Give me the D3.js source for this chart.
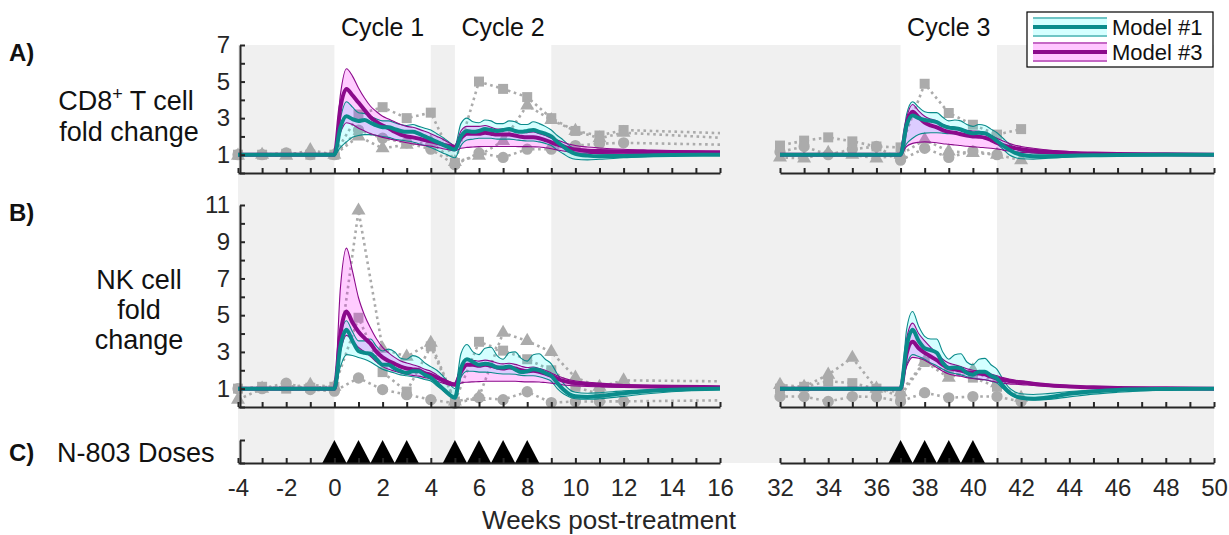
<!DOCTYPE html>
<html>
<head>
<meta charset="utf-8">
<script src="https://cdn.jsdelivr.net/npm/d3@7"></script>
<style>
html, body { margin: 0; padding: 0; background: #fff; }
svg { display: block; font-family: "Liberation Sans", Arial, Helvetica, sans-serif; }
</style>
</head>
<body>
<svg id="chart" width="1229" height="535"></svg>
<script>
// ---------- Model time grids (weeks) ----------
const modelWeeksL = [-4, 0,
  0.25, 0.5, 0.75, 1, 1.25, 1.5, 1.75, 2, 2.25, 2.5, 2.75, 3, 3.25, 3.5, 3.75, 4,
  4.25, 4.5, 4.75, 5, 5.25, 5.5, 5.75, 6, 6.25, 6.5, 6.75, 7, 7.25, 7.5, 7.75, 8,
  8.25, 8.5, 8.75, 9, 9.25, 9.5, 9.75, 10, 10.5, 11, 12, 13, 14, 16];
const modelWeeksR = [32, 37,
  37.25, 37.5, 37.75, 38, 38.25, 38.5, 38.75, 39, 39.25, 39.5, 39.75, 40,
  40.25, 40.5, 40.75, 41, 41.25, 41.5, 41.75, 42, 42.5, 43, 44, 45, 46, 48, 50];

// ---------- CD8+ T cell fold change, cycles 1-2 ----------
const cd8M1MeanL = [1, 1, 2.5, 3.1, 2.95, 2.85, 2.9, 2.75, 2.6, 2.5, 2.5, 2.4, 2.3, 2.25,
  2.25, 2.15, 2.0, 1.85, 1.7, 1.55, 1.4, 1.28, 2.0, 2.3, 2.25, 2.3, 2.4, 2.35, 2.3, 2.35,
  2.4, 2.3, 2.25, 2.3, 2.35, 2.25, 2.15, 2.0, 1.7, 1.45, 1.2, 1.05, 0.95, 0.92, 0.93, 0.96, 0.98, 1.0];
const cd8M1HiL = [1, 1, 3.0, 3.9, 3.6, 3.3, 3.25, 3.1, 2.95, 2.85, 2.85, 2.75, 2.65, 2.6,
  2.65, 2.55, 2.45, 2.35, 2.15, 1.95, 1.7, 1.5, 2.7, 3.0, 2.8, 2.75, 2.9, 2.85, 2.7, 2.7,
  2.85, 2.8, 2.65, 2.65, 2.8, 2.7, 2.55, 2.35, 2.05, 1.8, 1.5, 1.3, 1.12, 1.05, 1.01, 1.0, 1.0, 1.0];
const cd8M1LoL = [1, 1, 1.4, 1.7, 1.95, 2.05, 2.1, 2.1, 2.05, 2.0, 1.95, 1.85, 1.8, 1.75,
  1.7, 1.6, 1.5, 1.4, 1.25, 1.1, 0.95, 0.83, 1.5, 1.8, 1.85, 1.9, 1.9, 1.9, 1.85, 1.85,
  1.85, 1.82, 1.78, 1.75, 1.75, 1.7, 1.62, 1.5, 1.25, 1.05, 0.85, 0.75, 0.72, 0.75, 0.83, 0.9, 0.95, 0.99];
const cd8M3MeanL = [1, 1, 3.6, 4.6, 4.25, 3.85, 3.45, 3.05, 2.8, 2.6, 2.45, 2.25, 2.1, 2.0,
  1.95, 1.88, 1.8, 1.73, 1.65, 1.55, 1.48, 1.42, 1.9, 2.15, 2.15, 2.15, 2.2, 2.15, 2.1, 2.1,
  2.1, 2.05, 1.98, 1.95, 1.95, 1.9, 1.8, 1.68, 1.55, 1.45, 1.35, 1.28, 1.22, 1.2, 1.17, 1.15, 1.14, 1.12];
const cd8M3HiL = [1, 1, 4.3, 5.7, 5.3, 4.65, 4.1, 3.65, 3.35, 3.1, 2.95, 2.8, 2.65, 2.55,
  2.5, 2.4, 2.28, 2.15, 2.0, 1.85, 1.65, 1.5, 2.3, 2.55, 2.55, 2.55, 2.6, 2.5, 2.4, 2.4,
  2.45, 2.35, 2.25, 2.2, 2.25, 2.15, 2.05, 1.9, 1.8, 1.68, 1.57, 1.5, 1.42, 1.37, 1.3, 1.26, 1.23, 1.2];
const cd8M3LoL = [1, 1, 2.2, 2.75, 2.65, 2.45, 2.3, 2.15, 2.05, 1.95, 1.88, 1.8, 1.72, 1.65,
  1.6, 1.55, 1.5, 1.47, 1.4, 1.33, 1.27, 1.22, 1.35, 1.4, 1.42, 1.44, 1.45, 1.45, 1.45, 1.45,
  1.45, 1.45, 1.44, 1.44, 1.43, 1.42, 1.38, 1.33, 1.26, 1.2, 1.15, 1.11, 1.08, 1.06, 1.05, 1.04, 1.04, 1.03];

// ---------- CD8+ T cell fold change, cycle 3 ----------
const cd8M1MeanR = [1, 1, 2.6, 3.15, 3.0, 2.9, 2.85, 2.78, 2.6, 2.48, 2.45, 2.38, 2.25, 2.18,
  2.2, 2.17, 2.0, 1.75, 1.5, 1.28, 1.1, 1.0, 0.92, 0.91, 0.94, 0.97, 0.99, 1.0, 1.0];
const cd8M1HiR = [1, 1, 3.2, 3.9, 3.6, 3.35, 3.3, 3.3, 3.05, 2.85, 2.9, 2.85, 2.65, 2.55,
  2.65, 2.6, 2.4, 2.2, 1.9, 1.6, 1.35, 1.2, 1.1, 1.05, 1.02, 1.01, 1.0, 1.0, 1.0];
const cd8M1LoR = [1, 1, 1.6, 1.9, 2.1, 2.18, 2.2, 2.2, 2.18, 2.15, 2.15, 2.12, 2.1, 2.05,
  2.05, 1.95, 1.85, 1.6, 1.3, 1.0, 0.85, 0.78, 0.76, 0.8, 0.88, 0.93, 0.96, 0.99, 1.0];
const cd8M3MeanR = [1, 1, 2.7, 3.35, 3.05, 2.75, 2.6, 2.5, 2.35, 2.25, 2.2, 2.12, 2.05, 2.0,
  1.98, 1.93, 1.8, 1.65, 1.53, 1.43, 1.36, 1.3, 1.22, 1.17, 1.1, 1.06, 1.04, 1.02, 1.0];
const cd8M3HiR = [1, 1, 3.0, 3.75, 3.4, 3.1, 2.95, 2.85, 2.65, 2.55, 2.5, 2.42, 2.33, 2.3,
  2.28, 2.2, 2.05, 1.9, 1.75, 1.62, 1.52, 1.45, 1.35, 1.27, 1.17, 1.1, 1.07, 1.03, 1.01];
const cd8M3LoR = [1, 1, 1.45, 1.62, 1.68, 1.7, 1.68, 1.65, 1.6, 1.57, 1.53, 1.5, 1.46, 1.43,
  1.41, 1.38, 1.35, 1.32, 1.25, 1.2, 1.16, 1.13, 1.1, 1.07, 1.04, 1.02, 1.01, 1.0, 1.0];

// ---------- NK cell fold change, cycles 1-2 ----------
const nkM1MeanL = [1, 1, 3.3, 4.2, 3.6, 3.05, 2.95, 2.9, 2.6, 2.3, 2.3, 2.1, 1.95, 1.85,
  1.95, 1.95, 1.75, 1.6, 1.3, 1.0, 0.7, 0.5, 2.1, 2.6, 2.45, 2.3, 2.35, 2.3, 2.15, 2.15,
  2.2, 2.05, 1.9, 1.95, 2.05, 2.0, 1.85, 1.7, 1.3, 0.95, 0.7, 0.58, 0.55, 0.6, 0.75, 0.87, 0.94, 0.99];
const nkM1HiL = [1, 1, 3.8, 4.7, 4.1, 3.6, 3.6, 3.7, 3.3, 3.05, 3.15, 3.0, 2.65, 2.6,
  2.8, 2.7, 2.4, 2.2, 2.0, 1.7, 1.3, 1.0, 2.9, 3.4, 3.0, 2.85, 3.2, 3.25, 2.8, 2.6,
  2.95, 3.0, 2.65, 2.5, 2.85, 2.9, 2.6, 2.35, 1.8, 1.3, 0.95, 0.8, 0.75, 0.78, 0.88, 0.94, 0.97, 1.0];
const nkM1LoL = [1, 1, 2.2, 2.85, 2.8, 2.7, 2.6, 2.45, 2.25, 2.05, 1.95, 1.85, 1.75, 1.7,
  1.65, 1.6, 1.5, 1.42, 1.15, 0.9, 0.65, 0.5, 1.6, 1.95, 1.95, 1.9, 1.9, 1.88, 1.82, 1.8,
  1.8, 1.78, 1.72, 1.7, 1.7, 1.65, 1.55, 1.4, 1.0, 0.72, 0.55, 0.45, 0.42, 0.45, 0.58, 0.72, 0.83, 0.95];
const nkM3MeanL = [1, 1, 4.0, 5.2, 4.6, 4.1, 3.75, 3.45, 3.0, 2.7, 2.5, 2.35, 2.2, 2.1,
  2.05, 2.0, 1.85, 1.75, 1.6, 1.45, 1.3, 1.22, 1.9, 2.3, 2.3, 2.25, 2.3, 2.25, 2.15, 2.1,
  2.15, 2.1, 2.0, 1.95, 1.98, 1.92, 1.82, 1.7, 1.55, 1.42, 1.35, 1.3, 1.24, 1.2, 1.15, 1.12, 1.1, 1.08];
const nkM3HiL = [1, 1, 6.5, 8.65, 7.4, 5.95, 5.0, 4.3, 3.7, 3.25, 2.95, 2.7, 2.5, 2.4,
  2.3, 2.2, 2.05, 1.95, 1.75, 1.55, 1.4, 1.3, 2.2, 2.6, 2.55, 2.5, 2.55, 2.5, 2.4, 2.35,
  2.38, 2.32, 2.22, 2.15, 2.18, 2.1, 2.0, 1.85, 1.7, 1.58, 1.48, 1.42, 1.35, 1.3, 1.22, 1.18, 1.15, 1.12];
const nkM3LoL = [1, 1, 3.0, 3.9, 3.6, 3.25, 3.0, 2.75, 2.45, 2.2, 2.05, 1.95, 1.85, 1.78,
  1.72, 1.68, 1.6, 1.52, 1.4, 1.3, 1.2, 1.15, 1.3, 1.35, 1.37, 1.38, 1.4, 1.4, 1.4, 1.4,
  1.4, 1.4, 1.38, 1.37, 1.37, 1.36, 1.33, 1.3, 1.25, 1.2, 1.17, 1.15, 1.12, 1.1, 1.07, 1.06, 1.05, 1.04];

// ---------- NK cell fold change, cycle 3 ----------
const nkM1MeanR = [1, 1, 3.3, 4.2, 3.6, 3.2, 3.1, 2.95, 2.4, 2.12, 2.15, 2.1, 1.85, 1.76,
  1.92, 1.92, 1.7, 1.55, 1.15, 0.8, 0.6, 0.5, 0.45, 0.5, 0.72, 0.85, 0.93, 0.98, 1.0];
const nkM1HiR = [1, 1, 4.2, 5.2, 4.4, 3.85, 3.7, 3.7, 3.0, 2.6, 2.85, 2.9, 2.45, 2.3,
  2.6, 2.65, 2.3, 2.05, 1.5, 1.05, 0.82, 0.72, 0.68, 0.72, 0.84, 0.92, 0.96, 0.99, 1.0];
const nkM1LoR = [1, 1, 2.3, 2.85, 2.75, 2.6, 2.4, 2.25, 2.05, 1.9, 1.82, 1.75, 1.65, 1.58,
  1.52, 1.48, 1.4, 1.3, 1.0, 0.72, 0.55, 0.45, 0.38, 0.4, 0.55, 0.7, 0.8, 0.93, 0.98];
const nkM3MeanR = [1, 1, 2.9, 3.55, 3.2, 2.95, 2.75, 2.55, 2.3, 2.12, 2.05, 1.98, 1.9, 1.85,
  1.82, 1.78, 1.65, 1.55, 1.47, 1.42, 1.38, 1.35, 1.27, 1.2, 1.12, 1.07, 1.04, 1.02, 1.0];
const nkM3HiR = [1, 1, 3.7, 4.57, 4.0, 3.6, 3.25, 2.95, 2.6, 2.4, 2.3, 2.2, 2.08, 2.0,
  1.97, 1.92, 1.8, 1.7, 1.6, 1.52, 1.46, 1.42, 1.33, 1.25, 1.15, 1.09, 1.05, 1.02, 1.0];
const nkM3LoR = [1, 1, 2.2, 2.7, 2.65, 2.55, 2.35, 2.15, 1.95, 1.8, 1.72, 1.67, 1.6, 1.55,
  1.52, 1.48, 1.42, 1.35, 1.3, 1.26, 1.24, 1.22, 1.17, 1.13, 1.08, 1.05, 1.03, 1.01, 1.0];

// ---------- Measured subjects (weekly samples) ----------
const sampleWeeks = [-4, -3, -2, -1, 0, 1, 2, 3, 4, 5, 6, 7, 8, 9, 10, 11, 12,
  32, 33, 34, 35, 36, 37, 38, 39, 40, 41, 42];
const cd8Square = [1.0, 1.0, 1.05, 1.0, 1.0, 3.2, 3.6, 3.0, 3.3, 0.55, 5.0, 4.6, 4.15, 3.0, 2.3, 2.05, 2.35,
  1.5, 1.77, 1.95, 1.73, 1.45, 1.4, 4.88, 3.28, 2.64, 2.1, 2.4];
const cd8Circle = [1.0, 1.0, 1.1, 1.0, 1.0, 2.35, 1.9, 1.65, 1.3, 0.45, 1.1, 0.85, 1.3, 1.3, 1.5, 1.6, 1.65,
  1.15, 1.45, 1.0, 1.3, 1.45, 0.7, 1.35, 0.85, 1.2, 1.0, null];
const cd8Triangle = [0.95, 1.0, 0.95, 1.25, 1.0, 2.0, 1.35, 1.55, 1.7, 0.6, 0.95, 1.75, 3.7, 2.9, 2.3, 1.9, 2.2,
  0.85, 0.8, 1.1, 1.0, 0.8, 1.0, 1.82, 1.18, 1.1, 1.0, 0.7];
const nkSquare = [1.0, 1.1, 1.0, 1.05, 1.1, 4.86, 1.9, 0.84, 3.3, 0.3, 3.55, 3.07, 2.6, 2.0, 1.1, 0.7, null,
  1.0, 1.1, 1.4, 1.3, 1.0, 0.6, 2.45, 1.9, 1.6, 1.1, null];
const nkCircle = [1.0, 1.0, 1.3, 0.95, 0.86, 1.58, 0.95, 0.67, 0.4, 0.2, 0.5, 0.4, 0.83, 0.24, 0.3, 0.3, 0.31,
  0.57, 0.57, 0.3, 0.57, 0.55, 0.3, 0.78, 0.5, 0.57, 0.57, 0.3];
const nkTriangle = [0.4, 1.0, 1.1, 1.2, 1.1, 10.7, 3.17, 2.74, 3.5, 0.3, 0.55, 4.04, 3.6, 3.0, 1.6, 1.1, 1.45,
  1.2, 1.1, 1.76, 2.68, 1.0, 0.8, 2.47, 1.6, 2.0, 1.3, 0.5];

// ---------- Treatment schedule ----------
const doseWeeks = [0, 1, 2, 3, 5, 6, 7, 8, 37, 38, 39, 40];
const offTreatment = [[-4, 0], [4, 5], [9, 37], [41, 50]];
const cycleLabels = ["Cycle 1", "Cycle 2", "Cycle 3"];
const cycleCentres = [2, 7, 39];
const ticksL = d3.range(-4, 17);
const ticksR = d3.range(32, 51);
const ticksA = d3.range(0, 8);
const ticksB = d3.range(0, 12);
const legendLabels = ["Model #1", "Model #3"];

// ---------- Scales ----------
const INK = "#262626";
const TEAL = "#0a8b8b", PURPLE = "#8b0a8b", GREY = "#ababab";
const xL = d3.scaleLinear().domain([-4, 16]).range([238, 720]);
const xR = d3.scaleLinear().domain([32, 50]).range([780, 1214]);
const yA = d3.scaleLinear().domain([0, 7]).range([173, 45]);
const yB = d3.scaleLinear().domain([0, 11]).range([407, 205]);
const yC = d3.scaleLinear().domain([0, 1]).range([463, 440]);
const xAt = t => (t <= 16 ? xL(t) : xR(t));

const svg = d3.select("#chart");
const defs = svg.append("defs");
defs.append("clipPath").attr("id", "clipL").append("rect")
  .attr("x", 200).attr("y", 0).attr("width", xL(16) - 200).attr("height", 535);
defs.append("clipPath").attr("id", "clipR").append("rect")
  .attr("x", xR(32)).attr("y", 0).attr("width", 1229 - xR(32)).attr("height", 535);

// Off-treatment shading spans all three panels
svg.append("g").selectAll("rect").data(offTreatment).join("rect")
  .attr("x", d => xAt(d[0])).attr("width", d => xAt(d[1]) - xAt(d[0]))
  .attr("y", yA(7)).attr("height", yC(0) - yA(7))
  .attr("fill", "#f0f0f0");

// ---------- Panel definitions ----------
const panels = [
  { y: yA,
    subjects: [cd8Square, cd8Circle, cd8Triangle],
    segments: [
      { x: xL, clip: "clipL", weeks: modelWeeksL,
        m1: [cd8M1LoL, cd8M1HiL, cd8M1MeanL], m3: [cd8M3LoL, cd8M3HiL, cd8M3MeanL] },
      { x: xR, clip: "clipR", weeks: modelWeeksR,
        m1: [cd8M1LoR, cd8M1HiR, cd8M1MeanR], m3: [cd8M3LoR, cd8M3HiR, cd8M3MeanR] }
    ] },
  { y: yB,
    subjects: [nkSquare, nkCircle, nkTriangle],
    segments: [
      { x: xL, clip: "clipL", weeks: modelWeeksL,
        m1: [nkM1LoL, nkM1HiL, nkM1MeanL], m3: [nkM3LoL, nkM3HiL, nkM3MeanL] },
      { x: xR, clip: "clipR", weeks: modelWeeksR,
        m1: [nkM1LoR, nkM1HiR, nkM1MeanR], m3: [nkM3LoR, nkM3HiR, nkM3MeanR] }
    ] }
];
const markerShapes = [
  d3.symbol(d3.symbolSquare, 100),
  d3.symbol(d3.symbolCircle, 100),
  d3.symbol(d3.symbolTriangle, 85)
];

panels.forEach(p => {
  const g = svg.append("g");
  // measured subjects: dotted lines then markers
  p.segments.forEach(seg => {
    p.subjects.forEach(vals => {
      const pts = sampleWeeks.map((w, i) => ({ w, v: vals[i] }));
      g.append("path")
        .attr("clip-path", `url(#${seg.clip})`)
        .attr("d", d3.line().defined(d => d.v != null)
          .x(d => seg.x(d.w)).y(d => p.y(d.v))(pts))
        .attr("fill", "none").attr("stroke", GREY)
        .attr("stroke-width", 2.6).attr("stroke-dasharray", "2.6,3.6");
    });
  });
  p.subjects.forEach((vals, si) => {
    const pts = sampleWeeks.map((w, i) => ({ w, v: vals[i] })).filter(d => d.v != null);
    g.append("g").selectAll("path").data(pts).join("path")
      .attr("transform", d => `translate(${xAt(d.w)},${p.y(d.v)})`)
      .attr("d", markerShapes[si]())
      .attr("fill", GREY);
  });
  // model ensembles
  p.segments.forEach(seg => {
    const rows = seg.weeks.map((w, i) => ({
      w, lo1: seg.m1[0][i], hi1: seg.m1[1][i], mu1: seg.m1[2][i],
      lo3: seg.m3[0][i], hi3: seg.m3[1][i], mu3: seg.m3[2][i]
    }));
    const curve = d3.curveMonotoneX;
    const band = (lo, hi) => d3.area().curve(curve).x(d => seg.x(d.w))
      .y0(d => p.y(d[lo])).y1(d => p.y(d[hi]))(rows);
    const ln = key => d3.line().curve(curve).x(d => seg.x(d.w)).y(d => p.y(d[key]))(rows);
    g.append("path").attr("d", band("lo1", "hi1")).attr("fill", "#00ffff").attr("fill-opacity", 0.17);
    g.append("path").attr("d", band("lo3", "hi3")).attr("fill", "#ff00ff").attr("fill-opacity", 0.2);
    [["lo1", TEAL], ["hi1", TEAL], ["lo3", PURPLE], ["hi3", PURPLE]].forEach(([k, c]) => {
      g.append("path").attr("d", ln(k)).attr("fill", "none").attr("stroke", c).attr("stroke-width", 1.1);
    });
    g.append("path").attr("d", ln("mu3")).attr("fill", "none").attr("stroke", PURPLE)
      .attr("stroke-width", 4).attr("stroke-linejoin", "round");
    g.append("path").attr("d", ln("mu1")).attr("fill", "none").attr("stroke", TEAL)
      .attr("stroke-width", 4).attr("stroke-linejoin", "round");
  });
});

// ---------- Dose markers ----------
svg.append("g").selectAll("path").data(doseWeeks).join("path")
  .attr("d", t => {
    const x = t <= 16 ? xL : xR;
    return `M${x(t - 0.5)},${yC(0)}L${x(t)},${yC(1)}L${x(t + 0.5)},${yC(0)}Z`;
  })
  .attr("fill", "#000");

// ---------- Axes ----------
function styleAxis(sel, fontSize) {
  sel.select(".domain").attr("stroke", INK).attr("stroke-width", 2);
  sel.selectAll(".tick line").attr("stroke", INK).attr("stroke-width", 2);
  sel.selectAll(".tick text").attr("fill", INK).attr("font-size", fontSize)
    .attr("font-family", '"Liberation Sans", Arial, sans-serif');
}
[[yA(0), false], [yB(0), false], [yC(0), true]].forEach(([yy, labelled]) => {
  [[xL, ticksL], [xR, ticksR]].forEach(([sc, tv]) => {
    const ax = d3.axisBottom(sc).tickValues(tv).tickSize(-5).tickSizeOuter(0).tickPadding(16)
      .tickFormat(d => (labelled && d % 2 === 0 ? d : ""));
    svg.append("g").attr("transform", `translate(0,${yy})`).call(ax).call(s => styleAxis(s, 24));
  });
});
const yAxisX = 240;
svg.append("g").attr("transform", `translate(${yAxisX},0)`)
  .call(d3.axisLeft(yA).tickValues(ticksA).tickSize(-5).tickSizeOuter(0).tickPadding(10)
    .tickFormat(d => (d % 2 === 1 ? d : "")))
  .call(s => styleAxis(s, 24));
svg.append("g").attr("transform", `translate(${yAxisX},0)`)
  .call(d3.axisLeft(yB).tickValues(ticksB).tickSize(-5).tickSizeOuter(0).tickPadding(10)
    .tickFormat(d => (d % 2 === 1 ? d : "")))
  .call(s => styleAxis(s, 24));
svg.append("g").attr("transform", `translate(${yAxisX},0)`)
  .call(d3.axisLeft(yC).tickValues([0, 1]).tickSize(-5).tickSizeOuter(0).tickFormat(""))
  .call(s => styleAxis(s, 24));

// ---------- Text ----------
const txt = (x, y, s, opts = {}) => svg.append("text")
  .attr("x", x).attr("y", y).text(s)
  .attr("font-size", opts.size || 27)
  .attr("font-weight", opts.bold ? "bold" : null)
  .attr("text-anchor", opts.anchor || "start")
  .attr("fill", opts.fill || "#111");

cycleLabels.forEach((c, i) => txt(xAt(cycleCentres[i]), 36, c, { size: 25, anchor: "middle" }));

txt(9, 61, "A)", { size: 24, bold: true });
const cd8 = svg.append("text").attr("x", 126).attr("y", 110).attr("font-size", 27)
  .attr("text-anchor", "middle").attr("fill", "#111");
cd8.append("tspan").text("CD8");
cd8.append("tspan").text("+").attr("font-size", 18).attr("baseline-shift", "super");
cd8.append("tspan").text(" T cell");
txt(129, 141, "fold change", { anchor: "middle" });

txt(9, 221, "B)", { size: 24, bold: true });
txt(139, 289, "NK cell", { anchor: "middle" });
txt(139, 319, "fold", { anchor: "middle" });
txt(139, 349, "change", { anchor: "middle" });

txt(9, 461, "C)", { size: 24, bold: true });
txt(57, 462, "N-803 Doses", { size: 27 });

txt(609, 529, "Weeks post-treatment", { size: 26, anchor: "middle", fill: INK });

// ---------- Legend ----------
const lg = svg.append("g");
lg.append("rect").attr("x", 1027).attr("y", 12).attr("width", 186).attr("height", 55)
  .attr("fill", "#fff").attr("stroke", "#000").attr("stroke-width", 1.2);
const legendItems = [
  { label: legendLabels[0], fill: "#00ffff", op: 0.17, col: TEAL, y: 27 },
  { label: legendLabels[1], fill: "#ff00ff", op: 0.22, col: PURPLE, y: 52 }
];
legendItems.forEach(it => {
  lg.append("rect").attr("x", 1033).attr("y", it.y - 10).attr("width", 74).attr("height", 20)
    .attr("fill", it.fill).attr("fill-opacity", it.op);
  [it.y - 9, it.y + 9].forEach(yy => lg.append("line").attr("x1", 1033).attr("x2", 1107)
    .attr("y1", yy).attr("y2", yy).attr("stroke", it.col).attr("stroke-width", 1.1));
  lg.append("line").attr("x1", 1033).attr("x2", 1107).attr("y1", it.y).attr("y2", it.y)
    .attr("stroke", it.col).attr("stroke-width", 4);
  lg.append("text").attr("x", 1112).attr("y", it.y + 8).text(it.label)
    .attr("font-size", 22).attr("fill", "#111");
});
</script>
</body>
</html>
